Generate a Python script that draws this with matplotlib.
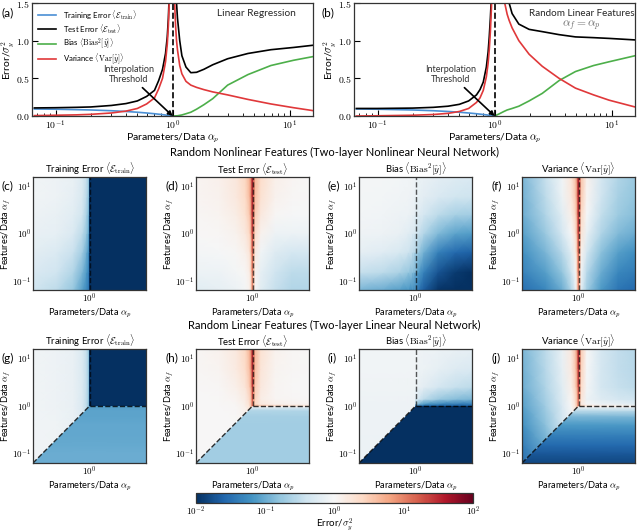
import numpy as np
import matplotlib
matplotlib.use("Agg")
import matplotlib.pyplot as plt
from matplotlib.colors import LogNorm
from matplotlib.patches import Polygon
from matplotlib.ticker import FuncFormatter, LogLocator, NullLocator, FixedLocator

plt.rcParams["font.family"] = ["Lato", "DejaVu Sans"]
plt.rcParams["mathtext.fontset"] = "cm"
plt.rcParams["axes.linewidth"] = 0.9
plt.rcParams["axes.edgecolor"] = "0.2"
plt.rcParams["xtick.direction"] = "in"
plt.rcParams["ytick.direction"] = "in"

# ---- panel (a): linear regression ----
a_under = [0.066, 0.1, 0.15, 0.2, 0.3, 0.4, 0.5, 0.6, 0.7, 0.76, 0.82, 0.87, 0.9, 0.92, 0.94, 0.96]
a_test_under = [0.107, 0.11, 0.115, 0.12, 0.14, 0.165, 0.2, 0.26, 0.34, 0.47, 0.62, 0.83, 1.05, 1.3, 1.7, 2.5]
a_var_under = [0.005, 0.01, 0.015, 0.022, 0.04, 0.065, 0.1, 0.16, 0.24, 0.36, 0.5, 0.72, 0.95, 1.2, 1.6, 2.5]
a_over = [1.02, 1.04, 1.06, 1.08, 1.1, 1.15, 1.2, 1.3, 1.43, 1.6, 1.85, 2.2, 2.95, 4.4, 6.9, 10.8, 16]
a_test_over = [5.0, 2.6, 1.85, 1.5, 1.3, 1.0, 0.8, 0.65, 0.575, 0.58, 0.62, 0.68, 0.76, 0.83, 0.88, 0.91, 0.94]
a_var_over = [2.5, 1.5, 1.2, 1.0, 0.88, 0.67, 0.56, 0.46, 0.41, 0.38, 0.35, 0.32, 0.28, 0.22, 0.16, 0.11, 0.07]
a_bias_x = [1.0, 1.1, 1.2, 1.3, 1.43, 1.6, 1.85, 2.2, 2.95, 4.4, 6.9, 10.8, 16]
a_bias = [0.0, 0.003, 0.014, 0.03, 0.05, 0.09, 0.15, 0.23, 0.41, 0.55, 0.67, 0.74, 0.79]

train_x = [0.066, 0.1, 0.2, 0.3, 0.4, 0.5, 0.6, 0.7, 0.8, 0.9, 1.0]
train_err = [0.093, 0.09, 0.08, 0.07, 0.06, 0.05, 0.04, 0.03, 0.02, 0.01, 0.0]

# ---- panel (b): random linear features, alpha_f = alpha_p ----
b_under = [0.066, 0.1, 0.2, 0.3, 0.4, 0.5, 0.6, 0.7, 0.75, 0.8, 0.85, 0.88, 0.9, 0.92, 0.94, 0.96]
b_test_under = [0.1, 0.1, 0.105, 0.115, 0.13, 0.155, 0.2, 0.28, 0.35, 0.45, 0.65, 0.85, 1.05, 1.3, 1.6, 2.4]
b_var_under = [0.0, 0.003, 0.01, 0.02, 0.035, 0.06, 0.1, 0.18, 0.24, 0.34, 0.52, 0.7, 0.88, 1.12, 1.45, 2.3]
b_over = [1.1, 1.15, 1.2, 1.28, 1.33, 1.41, 1.61, 1.97, 2.55, 3.55, 4.9, 7, 9.5, 15.8]
b_test_over = [5.0, 3.0, 2.2, 1.65, 1.5, 1.36, 1.22, 1.15, 1.12, 1.08, 1.05, 1.04, 1.03, 1.01]
b_var_over = [2.6, 1.9, 1.55, 1.35, 1.27, 1.17, 1.0, 0.82, 0.66, 0.5, 0.37, 0.28, 0.21, 0.12]
b_bias_x = [1.0, 1.1, 1.2, 1.28, 1.41, 1.61, 1.97, 2.55, 3.55, 4.9, 7, 9.5, 15.8]
b_bias = [0.0, 0.03, 0.06, 0.08, 0.1, 0.13, 0.2, 0.3, 0.47, 0.59, 0.67, 0.72, 0.8]

# ---- nonlinear feature maps (rows: alpha_f bottom -> top) ----
xs_nl = [0.063, 0.2, 0.45, 0.7, 0.87, 0.96, 0.995, 1.005, 1.04, 1.15, 1.5, 3.0, 7.0, 15.8]
ys_nl = [0.063, 0.15, 0.4, 1.0, 2.5, 6.0, 15.8]

train_nl = [
    [0.4, 0.3, 0.17, 0.08, 0.05, 0.035, 0.03] + [0.005] * 7,
    [0.5, 0.4, 0.25, 0.12, 0.07, 0.045, 0.035] + [0.005] * 7,
    [0.62, 0.52, 0.36, 0.2, 0.1, 0.06, 0.045] + [0.005] * 7,
    [0.72, 0.65, 0.5, 0.3, 0.16, 0.09, 0.06] + [0.005] * 7,
    [0.8, 0.72, 0.6, 0.42, 0.22, 0.12, 0.08] + [0.005] * 7,
    [0.85, 0.78, 0.66, 0.48, 0.28, 0.15, 0.1] + [0.005] * 7,
    [0.85, 0.8, 0.7, 0.52, 0.32, 0.18, 0.12] + [0.005] * 7,
]
test_nl = [
    [0.6, 0.65, 0.75, 0.9, 1.2, 3.5, 12, 12, 3.5, 1.0, 0.6, 0.35, 0.25, 0.25],
    [0.75, 0.8, 0.9, 1.05, 1.4, 4.5, 15, 15, 4.5, 1.2, 0.65, 0.4, 0.3, 0.3],
    [0.9, 0.95, 1.05, 1.25, 1.8, 6.0, 20, 20, 6.0, 1.6, 0.85, 0.55, 0.45, 0.45],
    [1.0, 1.05, 1.2, 1.6, 2.6, 9.0, 30, 30, 9.0, 2.3, 1.2, 0.8, 0.75, 0.75],
    [1.05, 1.15, 1.4, 2.0, 3.5, 12, 40, 40, 12, 3.2, 1.6, 1.05, 0.95, 0.95],
    [1.1, 1.2, 1.6, 2.4, 4.5, 15, 50, 50, 15, 4.0, 2.0, 1.2, 1.05, 1.0],
    [1.1, 1.25, 1.7, 2.7, 5.0, 18, 60, 60, 18, 4.5, 2.3, 1.3, 1.1, 1.0],
]
bias_nl = [
    [0.12, 0.1, 0.08, 0.065, 0.055, 0.05, 0.048, 0.048, 0.045, 0.036, 0.022, 0.011, 0.007, 0.006],
    [0.35, 0.3, 0.23, 0.17, 0.14, 0.12, 0.11, 0.11, 0.1, 0.075, 0.045, 0.019, 0.012, 0.01],
    [0.66, 0.58, 0.48, 0.38, 0.31, 0.27, 0.26, 0.26, 0.23, 0.18, 0.11, 0.045, 0.028, 0.023],
    [0.82, 0.78, 0.7, 0.6, 0.52, 0.48, 0.46, 0.46, 0.42, 0.36, 0.26, 0.13, 0.085, 0.075],
    [0.88, 0.85, 0.8, 0.75, 0.7, 0.66, 0.64, 0.64, 0.6, 0.55, 0.45, 0.3, 0.22, 0.2],
    [0.9, 0.88, 0.85, 0.82, 0.78, 0.75, 0.74, 0.74, 0.72, 0.68, 0.62, 0.5, 0.42, 0.38],
    [0.9, 0.9, 0.88, 0.85, 0.82, 0.8, 0.78, 0.78, 0.76, 0.74, 0.7, 0.62, 0.55, 0.5],
]
var_nl = [
    [0.03, 0.05, 0.1, 0.25, 0.7, 3.5, 12, 12, 3.5, 0.6, 0.2, 0.07, 0.035, 0.028],
    [0.045, 0.08, 0.16, 0.38, 0.9, 4.5, 15, 15, 4.5, 0.8, 0.28, 0.1, 0.05, 0.04],
    [0.06, 0.12, 0.28, 0.6, 1.4, 6.0, 20, 20, 6.0, 1.2, 0.45, 0.15, 0.08, 0.06],
    [0.08, 0.18, 0.45, 0.95, 2.0, 9.0, 30, 30, 9.0, 1.8, 0.7, 0.25, 0.13, 0.1],
    [0.1, 0.25, 0.6, 1.3, 2.8, 12, 40, 40, 12, 2.5, 0.95, 0.33, 0.19, 0.14],
    [0.11, 0.3, 0.75, 1.6, 3.5, 15, 50, 50, 15, 3.2, 1.1, 0.4, 0.22, 0.16],
    [0.12, 0.35, 0.85, 1.8, 4.0, 18, 60, 60, 18, 3.6, 1.2, 0.45, 0.25, 0.18],
]

# ---- linear feature maps: region A (alpha_p<1, above diagonal), B (both >1), C (below) ----
xA = [0.063, 0.2, 0.45, 0.7, 0.87, 0.96, 1.0]
yA = [0.063, 0.15, 0.4, 1.0, 2.5, 6.0, 15.8]
xB = [1.0, 1.04, 1.15, 1.5, 3.0, 7.0, 15.8]
yB = [1.0, 1.1, 1.4, 2.5, 6.0, 15.8]
yC = [0.063, 0.1, 0.15, 0.25, 0.4, 0.6, 0.8, 0.95, 1.0]

train_lin_A = [
    [0.85, 0.82, 0.72, 0.55, 0.35, 0.2, 0.1],
    [0.85, 0.82, 0.72, 0.55, 0.35, 0.2, 0.1],
    [0.85, 0.82, 0.72, 0.55, 0.35, 0.2, 0.1],
    [0.85, 0.8, 0.7, 0.5, 0.3, 0.15, 0.08],
    [0.85, 0.8, 0.7, 0.52, 0.32, 0.17, 0.09],
    [0.85, 0.8, 0.7, 0.52, 0.32, 0.17, 0.09],
    [0.85, 0.8, 0.7, 0.52, 0.32, 0.17, 0.09],
]
train_lin_B = [[0.005] * 7 for _ in range(6)]
train_lin_C = [0.1, 0.1, 0.095, 0.09, 0.09, 0.085, 0.085, 0.08, 0.07]

test_lin_A = [
    [1.0, 1.0, 1.0, 1.05, 1.1, 1.2, 1.3],
    [1.0, 1.0, 1.0, 1.05, 1.1, 1.3, 1.5],
    [1.0, 1.0, 1.0, 1.1, 1.3, 1.6, 2.0],
    [1.0, 1.0, 1.05, 1.3, 2.0, 5.0, 20],
    [1.0, 1.05, 1.3, 1.8, 3.2, 9.0, 40],
    [1.05, 1.15, 1.5, 2.3, 4.2, 13, 50],
    [1.05, 1.2, 1.6, 2.6, 5.0, 16, 60],
]
test_lin_B = [
    [20, 10, 6, 4, 3, 2.5, 2.2],
    [15, 5, 2.5, 1.6, 1.3, 1.2, 1.15],
    [25, 8, 2.8, 1.4, 1.1, 1.05, 1.0],
    [35, 11, 3.2, 1.6, 1.1, 1.0, 1.0],
    [50, 14, 4.0, 1.8, 1.15, 1.05, 1.0],
    [60, 16, 4.5, 2.0, 1.2, 1.05, 1.0],
]
test_lin_C = [0.2, 0.2, 0.2, 0.2, 0.2, 0.21, 0.25, 0.6, 2.0]

bias_lin_A = [[v] * 7 for v in [0.75, 0.76, 0.78, 0.8, 0.82, 0.84, 0.85]]
bias_lin_B = [
    [0.02, 0.02, 0.02, 0.02, 0.02, 0.02, 0.02],
    [0.25, 0.2, 0.12, 0.07, 0.05, 0.04, 0.04],
    [0.6, 0.55, 0.45, 0.3, 0.18, 0.14, 0.12],
    [0.8, 0.78, 0.72, 0.62, 0.45, 0.35, 0.3],
    [0.85, 0.82, 0.8, 0.75, 0.65, 0.55, 0.5],
    [0.85, 0.85, 0.82, 0.8, 0.75, 0.7, 0.65],
]
bias_lin_C = [0.005] * 9

var_lin_A = [
    [0.03, 0.08, 0.2, 0.4, 0.6, 0.8, 1.0],
    [0.04, 0.1, 0.3, 0.5, 0.8, 1.2, 2.0],
    [0.06, 0.15, 0.4, 0.7, 1.2, 2.0, 5.0],
    [0.08, 0.2, 0.5, 1.0, 2.0, 5.0, 20],
    [0.1, 0.25, 0.6, 1.3, 3.0, 9.0, 40],
    [0.11, 0.28, 0.65, 1.5, 3.6, 13, 50],
    [0.12, 0.3, 0.7, 1.6, 4.0, 16, 60],
]
var_lin_B = [
    [20, 6, 3, 2, 1.5, 1.3, 1.2],
    [15, 3, 1.5, 1.0, 0.8, 0.7, 0.6],
    [20, 6, 1.8, 0.8, 0.55, 0.45, 0.4],
    [30, 9, 2.3, 0.9, 0.45, 0.35, 0.3],
    [45, 12, 2.8, 0.95, 0.45, 0.32, 0.28],
    [60, 15, 3.2, 1.0, 0.45, 0.32, 0.27],
]
var_lin_C = [0.015, 0.02, 0.028, 0.045, 0.07, 0.12, 0.3, 0.7, 2.0]

titles = [r"Training Error $\langle\mathcal{E}_{\rm train}\rangle$",
          r"Test Error $\langle\mathcal{E}_{\rm test}\rangle$",
          r"Bias $\langle{\rm Bias}^2[\hat{y}]\rangle$",
          r"Variance $\langle{\rm Var}[\hat{y}]\rangle$"]

LO, HI = 0.063, 15.8
C_TRAIN, C_TEST, C_BIAS, C_VAR = "#4a8fd4", "black", "#4daf4a", "#e0383a"
cmap = plt.get_cmap("RdBu_r")
norm = LogNorm(1e-2, 1e2)

W, H = 640, 532


def box(l, t, r, b):
    return [l / W, 1 - b / H, (r - l) / W, (b - t) / H]


def pow10(v, pos):
    return r"$10^{%d}$" % int(round(np.log10(v)))


def dec(v, pos):
    return r"$%.1f$" % v


fig = plt.figure(figsize=(6.4, 5.32), dpi=100)

# ---------------- top row curves ----------------
curve_sets = [
    (a_under, a_test_under, a_var_under, a_over, a_test_over, a_var_over, a_bias_x, a_bias),
    (b_under, b_test_under, b_var_under, b_over, b_test_over, b_var_over, b_bias_x, b_bias),
]
for k, (l, r) in enumerate([(32, 313), (354, 635)]):
    ax = fig.add_axes(box(l, 3, r, 116))
    xu, tu, vu, xo, to, vo, xb, bb = curve_sets[k]
    ax.plot(train_x, train_err, color=C_TRAIN, lw=1.2, label=titles[0])
    ax.plot(xu, tu, color=C_TEST, lw=1.2, label=titles[1])
    ax.plot(xo, to, color=C_TEST, lw=1.2)
    ax.plot(xb, bb, color=C_BIAS, lw=1.2, label=titles[2])
    ax.plot(xu, vu, color=C_VAR, lw=1.2, label=titles[3])
    ax.plot(xo, vo, color=C_VAR, lw=1.2)
    ax.axvline(1.0, color="k", ls="--", lw=1.2)
    ax.set_xscale("log")
    ax.set_xlim(LO, HI)
    ax.set_ylim(0, 1.5)
    ax.xaxis.set_major_locator(FixedLocator([0.1, 1, 10]))
    ax.xaxis.set_major_formatter(FuncFormatter(pow10))
    ax.xaxis.set_minor_locator(LogLocator(base=10, subs=np.arange(2, 10)))
    ax.yaxis.set_major_locator(FixedLocator([0, 0.5, 1.0, 1.5]))
    ax.yaxis.set_major_formatter(FuncFormatter(dec))
    ax.tick_params(labelsize=7, length=4, pad=1.5)
    ax.tick_params(which="minor", length=2.5)
    ax.set_xlabel(r"Parameters/Data $\alpha_p$", fontsize=7.5, labelpad=0)
    ax.set_ylabel(r"Error/$\sigma_y^2$", fontsize=7.5, labelpad=0)
    ax.annotate("Interpolation\nThreshold", xy=(1.0, 0.0), xytext=(0.42, 0.55),
                ha="center", va="center", fontsize=6.5, color="0.2", linespacing=1.1,
                arrowprops=dict(arrowstyle="-|>", color="k", lw=1.2, shrinkA=1, shrinkB=0))
    if k == 0:
        ax.legend(loc="upper left", fontsize=5.6, frameon=False, handlelength=2.4,
                  labelspacing=0.12, borderaxespad=0.35, handletextpad=0.8)
        ax.text(0.80, 0.91, "Linear Regression", transform=ax.transAxes,
                ha="center", va="center", fontsize=7.3, color="0.15")
    else:
        ax.text(0.81, 0.91, "Random Linear Features", transform=ax.transAxes,
                ha="center", va="center", fontsize=7.1, color="0.15")
        ax.text(0.81, 0.80, r"$\alpha_f = \alpha_p$", transform=ax.transAxes,
                ha="center", va="center", fontsize=8.3, color="0.4")
fig.text(1 / W, 1 - 13 / H, "(a)", fontsize=8.5, va="center")
fig.text(322 / W, 1 - 13 / H, "(b)", fontsize=8.5, va="center")


# ---------------- heatmaps ----------------
def style_heat(ax, title):
    ax.set_xscale("log")
    ax.set_yscale("log")
    ax.set_xlim(LO, HI)
    ax.set_ylim(LO, HI)
    ax.xaxis.set_major_locator(FixedLocator([1.0]))
    ax.yaxis.set_major_locator(FixedLocator([0.1, 1.0, 10.0]))
    ax.xaxis.set_major_formatter(FuncFormatter(pow10))
    ax.yaxis.set_major_formatter(FuncFormatter(pow10))
    ax.xaxis.set_minor_locator(NullLocator())
    ax.yaxis.set_minor_locator(NullLocator())
    ax.tick_params(labelsize=6.5, length=0, pad=1.5)
    ax.set_title(title, fontsize=6.8, pad=3)
    ax.set_xlabel(r"Parameters/Data $\alpha_p$", fontsize=6.7, labelpad=1)
    ax.set_ylabel(r"Features/Data $\alpha_f$", fontsize=6.6)
    ax.yaxis.set_label_coords(-0.175, 0.5)


lefts = [33, 196, 359, 522]
letters_nl = ["(c)", "(d)", "(e)", "(f)"]
letters_lin = ["(g)", "(h)", "(i)", "(j)"]
nl_maps = [train_nl, test_nl, bias_nl, var_nl]
lin_maps = [(train_lin_A, train_lin_B, train_lin_C), (test_lin_A, test_lin_B, test_lin_C),
            (bias_lin_A, bias_lin_B, bias_lin_C), (var_lin_A, var_lin_B, var_lin_C)]

Xn, Yn = np.meshgrid(xs_nl, ys_nl)
XA, YA = np.meshgrid(xA, yA)
XB, YB = np.meshgrid(xB, yB)
XC, YC = np.meshgrid([LO, HI], yC)

mesh = None
for i, l in enumerate(lefts):
    ax = fig.add_axes(box(l, 177, l + 113, 290))
    mesh = ax.pcolormesh(Xn, Yn, np.array(nl_maps[i]), cmap=cmap, norm=norm, shading="gouraud")
    ax.axvline(1.0, color="k", ls="--", lw=1.0, alpha=0.65)
    style_heat(ax, titles[i])
    fig.text((l - 31) / W, 1 - 186 / H, letters_nl[i], fontsize=8.5, va="center")

for i, l in enumerate(lefts):
    ax = fig.add_axes(box(l, 349, l + 113, 463))
    vA, vB, vC = lin_maps[i]
    mA = ax.pcolormesh(XA, YA, np.array(vA), cmap=cmap, norm=norm, shading="gouraud")
    mA.set_clip_path(Polygon([(LO, LO), (1, 1), (1, HI), (LO, HI)], closed=True,
                             transform=ax.transData))
    ax.pcolormesh(XB, YB, np.array(vB), cmap=cmap, norm=norm, shading="gouraud")
    mC = ax.pcolormesh(XC, YC, np.column_stack([vC, vC]), cmap=cmap, norm=norm, shading="gouraud")
    mC.set_clip_path(Polygon([(LO, LO), (HI, LO), (HI, 1), (1, 1)], closed=True,
                             transform=ax.transData))
    ax.plot([LO, 1], [LO, 1], color="k", ls="--", lw=1.0, alpha=0.8)
    ax.plot([1, 1], [1, HI], color="k", ls="--", lw=1.0, alpha=0.65)
    ax.plot([1, HI], [1, 1], color="k", ls="--", lw=1.0, alpha=0.8)
    style_heat(ax, titles[i])
    fig.text((l - 31) / W, 1 - 358 / H, letters_lin[i], fontsize=8.5, va="center")

fig.text(334 / W, 1 - 152 / H, "Random Nonlinear Features (Two-layer Nonlinear Neural Network)",
         ha="center", va="center", fontsize=8.0)
fig.text(334 / W, 1 - 325 / H, "Random Linear Features (Two-layer Linear Neural Network)",
         ha="center", va="center", fontsize=8.0)

cax = fig.add_axes(box(196, 493, 473, 503))
cb = fig.colorbar(mesh, cax=cax, orientation="horizontal")
cb.set_ticks([1e-2, 1e-1, 1, 10, 100])
cb.ax.xaxis.set_major_formatter(FuncFormatter(pow10))
cb.ax.xaxis.set_minor_locator(NullLocator())
cb.ax.tick_params(labelsize=6.5, length=0, pad=1)
cb.outline.set_edgecolor("0.2")
cb.set_label(r"Error/$\sigma_y^2$", fontsize=7, labelpad=-1)

fig.savefig("out.png", dpi=100)
